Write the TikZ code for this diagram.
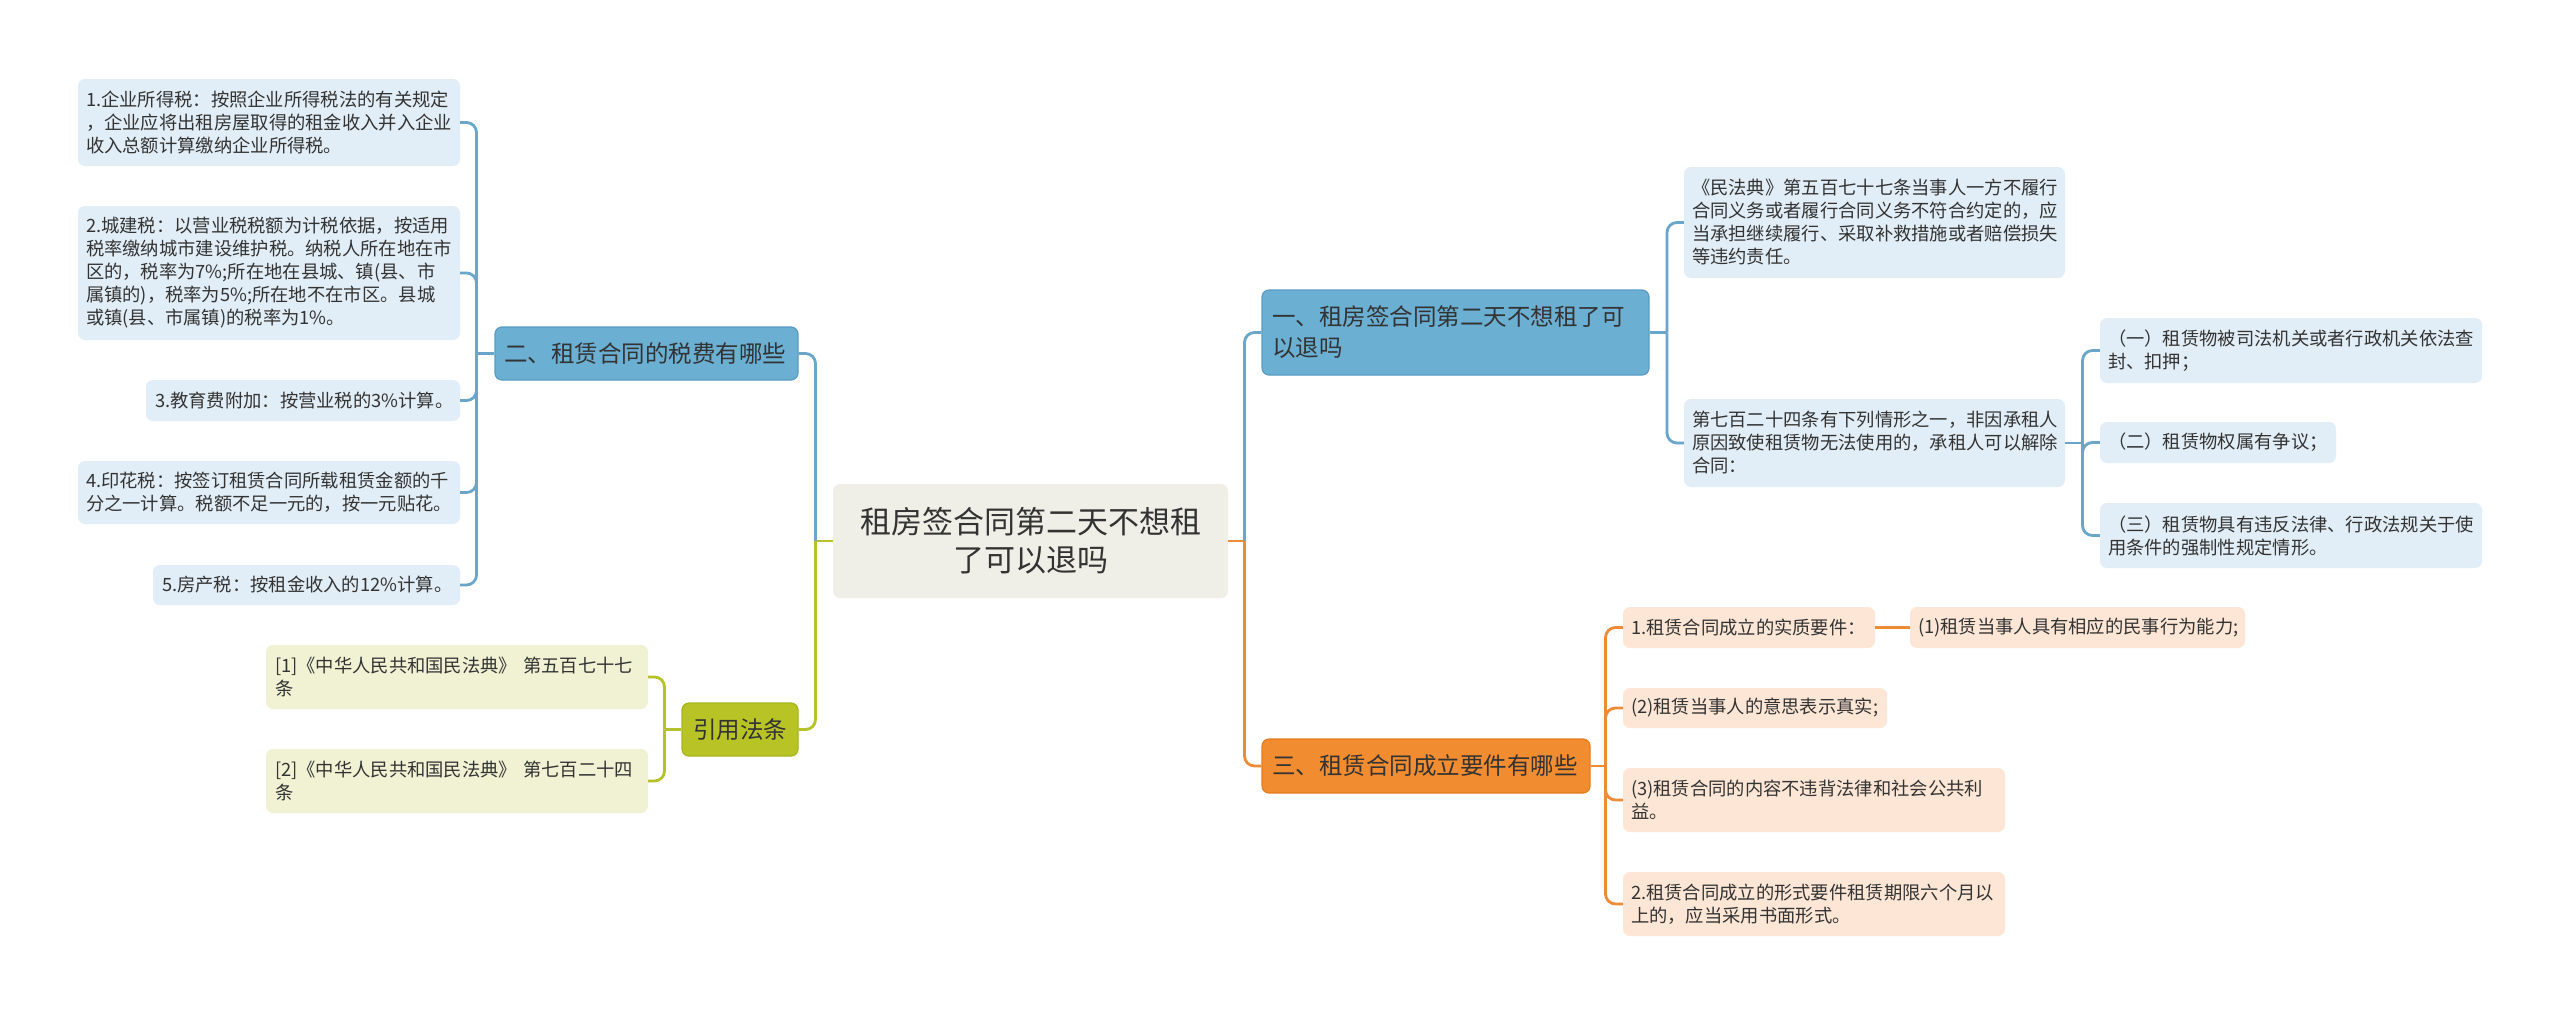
\documentclass[tikz,border=0pt]{standalone}
\usepackage{fontspec}
\setmainfont{Noto Sans CJK SC}
\definecolor{txt}{HTML}{333333}
\definecolor{blueLine}{HTML}{6AA6CB}
\definecolor{blueFill}{HTML}{6BAFD3}
\definecolor{blueBorder}{HTML}{5A9CC2}
\definecolor{blueLight}{HTML}{E2EEF7}
\definecolor{greenLine}{HTML}{B5C22A}
\definecolor{greenFill}{HTML}{B8C425}
\definecolor{greenBorder}{HTML}{A9B41B}
\definecolor{greenLight}{HTML}{F0F2D3}
\definecolor{orangeLine}{HTML}{EE8B36}
\definecolor{orangeFill}{HTML}{F28C30}
\definecolor{orangeBorder}{HTML}{E57E22}
\definecolor{orangeLight}{HTML}{FDE6D5}
\definecolor{centerFill}{HTML}{EFEFE8}
\newcommand\mybox[8]{%
  \pgfmathsetmacro\myW{#5-#3}%
  \pgfmathsetmacro\myH{#6-#4}%
  \pgfmathsetmacro\myTW{#5-#3-2*#7}%
  \pgfmathsetmacro\myCX{(#3+#5)/2}%
  \pgfmathsetmacro\myCY{(#4+#6)/2}%
  \node[#2, minimum width=\myW pt, minimum height=\myH pt, text width=\myTW pt] (#1) at (\myCX,\myCY) {#8};%
}
\tikzset{
  boxbase/.style={rounded corners=7pt, inner sep=0pt, text=txt, align=left},
  centerbox/.style={boxbase, fill=centerFill, align=center, font=\fontsize{31pt}{38pt}\selectfont},
  branchblue/.style={boxbase, fill=blueFill, draw=blueBorder, line width=1.2pt, font=\fontsize{23.5pt}{31pt}\selectfont},
  branchgreen/.style={boxbase, fill=greenFill, draw=greenBorder, line width=1.2pt, align=center, font=\fontsize{23.5pt}{31pt}\selectfont},
  branchorange/.style={boxbase, fill=orangeFill, draw=orangeBorder, line width=1.2pt, font=\fontsize{23.5pt}{31pt}\selectfont},
  leafblue/.style={boxbase, fill=blueLight, font=\fontsize{18.3pt}{23pt}\selectfont},
  leafgreen/.style={boxbase, fill=greenLight, font=\fontsize{18.3pt}{23pt}\selectfont},
  leaforange/.style={boxbase, fill=orangeLight, font=\fontsize{18.3pt}{23pt}\selectfont},
  bline/.style={draw=blueLine, line width=2.8pt},
  gline/.style={draw=greenLine, line width=2.8pt},
  oline/.style={draw=orangeLine, line width=2.8pt},
  rc/.style={rounded corners=10pt},
}
\begin{document}
\begin{tikzpicture}[x=1pt,y=-1pt]
\useasboundingbox (0,0) rectangle (2560,1015);
\fill[white] (0,0) rectangle (2560,1015);

% center
\mybox{c}{centerbox}{833}{484}{1228}{598}{8}{租房签合同第二天不想租\\了可以退吗}

% branches
\mybox{b1}{branchblue}{1262}{290}{1649}{375}{10}{一、租房签合同第二天不想租了可\\以退吗}
\mybox{b2}{branchblue}{495}{327}{798}{380}{9}{二、租赁合同的税费有哪些}
\mybox{b4}{branchgreen}{682}{703}{798}{756}{6}{引用法条}
\mybox{b3}{branchorange}{1262}{739}{1590}{793}{10}{三、租赁合同成立要件有哪些}

% left blue leaves
\mybox{l1}{leafblue}{78}{79}{460}{166}{8}{1.企业所得税：按照企业所得税法的有关规定\\，企业应将出租房屋取得的租金收入并入企业\\收入总额计算缴纳企业所得税。}
\mybox{l2}{leafblue}{78}{206}{460}{340}{8}{2.城建税：以营业税税额为计税依据，按适用\\税率缴纳城市建设维护税。纳税人所在地在市\\区的，税率为7\%;所在地在县城、镇(县、市\\属镇的)，税率为5\%;所在地不在市区。县城\\或镇(县、市属镇)的税率为1\%。}
\mybox{l3}{leafblue}{146}{380}{460}{421}{9}{3.教育费附加：按营业税的3\%计算。}
\mybox{l4}{leafblue}{78}{461}{460}{524}{8}{4.印花税：按签订租赁合同所载租赁金额的千\\分之一计算。税额不足一元的，按一元贴花。}
\mybox{l5}{leafblue}{153}{565}{460}{605}{9}{5.房产税：按租金收入的12\%计算。}

% green leaves
\mybox{g1}{leafgreen}{266}{645}{648}{709}{9}{[1]《中华人民共和国民法典》 第五百七十七\\条}
\mybox{g2}{leafgreen}{266}{749}{648}{813}{9}{[2]《中华人民共和国民法典》 第七百二十四\\条}

% right blue leaves
\mybox{r1}{leafblue}{1684}{167}{2065}{278}{8}{《民法典》第五百七十七条当事人一方不履行\\合同义务或者履行合同义务不符合约定的，应\\当承担继续履行、采取补救措施或者赔偿损失\\等违约责任。}
\mybox{r2}{leafblue}{1684}{399}{2065}{487}{8}{第七百二十四条有下列情形之一，非因承租人\\原因致使租赁物无法使用的，承租人可以解除\\合同：}
\mybox{s1}{leafblue}{2100}{318}{2482}{383}{8}{（一）租赁物被司法机关或者行政机关依法查\\封、扣押；}
\mybox{s2}{leafblue}{2100}{422}{2336}{463}{8}{（二）租赁物权属有争议；}
\mybox{s3}{leafblue}{2100}{503}{2482}{568}{8}{（三）租赁物具有违反法律、行政法规关于使\\用条件的强制性规定情形。}

% orange leaves
\mybox{o1}{leaforange}{1623}{607}{1875}{648}{8}{1.租赁合同成立的实质要件：}
\mybox{o1a}{leaforange}{1910}{607}{2245}{648}{8}{(1)租赁当事人具有相应的民事行为能力;}
\mybox{o2}{leaforange}{1623}{688}{1887}{728}{8}{(2)租赁当事人的意思表示真实;}
\mybox{o3}{leaforange}{1623}{768}{2005}{832}{8}{(3)租赁合同的内容不违背法律和社会公共利\\益。}
\mybox{o4}{leaforange}{1623}{872}{2005}{936}{8}{2.租赁合同成立的形式要件租赁期限六个月以\\上的，应当采用书面形式。}

% junction coordinates
\coordinate (jl) at (815.5,541);
\coordinate (jr) at (1244.5,541);
\coordinate (j2) at (476.5,353.5);
\coordinate (j4) at (664.5,729.5);
\coordinate (j1) at (1667,332.5);
\coordinate (jr2) at (2082.5,443);
\coordinate (j3) at (1605.5,766);

% center connectors
\draw[gline] (c.west) -- (jl);
\draw[bline, rc] (jl) |- (b2.east);
\draw[gline, rc] (jl) |- (b4.east);
\draw[oline] (c.east) -- (jr);
\draw[bline, rc] (jr) |- (b1.west);
\draw[oline, rc] (jr) |- (b3.west);

% branch 二
\draw[bline] (b2.west) -- (j2);
\foreach \n in {l1,l2,l3,l4,l5} \draw[bline, rc] (j2) |- (\n.east);
% 引用法条
\draw[gline] (b4.west) -- (j4);
\foreach \n in {g1,g2} \draw[gline, rc] (j4) |- (\n.east);
% branch 一
\draw[bline] (b1.east) -- (j1);
\foreach \n in {r1,r2} \draw[bline, rc] (j1) |- (\n.west);
\draw[bline] (r2.east) -- (jr2);
\foreach \n in {s1,s2,s3} \draw[bline, rc] (jr2) |- (\n.west);
% branch 三
\draw[oline] (b3.east) -- (j3);
\foreach \n in {o1,o2,o3,o4} \draw[oline, rc] (j3) |- (\n.west);
\draw[oline] (o1.east) -- (o1a.west);
\end{tikzpicture}
\end{document}
